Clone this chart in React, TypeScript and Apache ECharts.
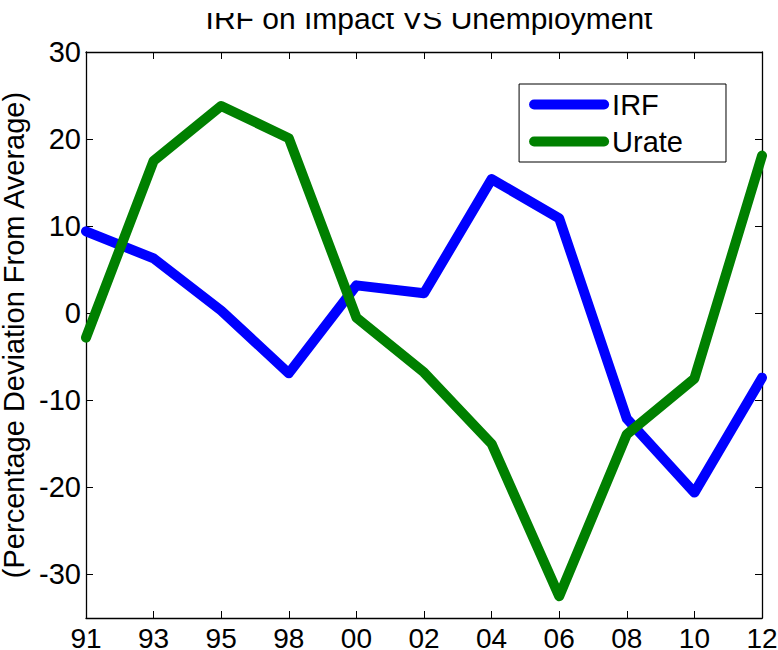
import React, { useEffect, useRef } from "react";
import * as echarts from "echarts";

const years = ["91", "93", "95", "98", "00", "02", "04", "06", "08", "10", "12"];
const irf = [9.4, 6.3, 0.3, -6.9, 3.2, 2.3, 15.4, 10.9, -12.1, -20.6, -7.4];
const urate = [-2.8, 17.5, 23.8, 20.1, -0.5, -6.8, -15.0, -32.5, -13.9, -7.5, 18.1];
const yTicks = [-30, -20, -10, 0, 10, 20, 30];
const titleText = "IRF on Impact VS Unemployment";
const yName = "(Percentage Deviation From Average)";

const FONT = "'Liberation Sans', Arial, Helvetica, sans-serif";

export default function App() {
  const ref = useRef<HTMLDivElement>(null);
  useEffect(() => {
    if (!ref.current) return;
    const chart = echarts.init(ref.current, null, { renderer: "svg" });
    const axisLine = { show: true, onZero: false, lineStyle: { color: "#000", width: 1.3 } };
    const tickIn = { show: true, inside: true, length: 7, lineStyle: { color: "#000", width: 1 } };
    const capsule = "path://M5,0 L75,0 A5,5 0 0 1 75,10 L5,10 A5,5 0 0 1 5,0 Z";
    chart.setOption({
      animation: false,
      backgroundColor: "#fff",
      title: {
        text: titleText,
        left: 424,
        top: -2,
        textAlign: "center",
        textStyle: { fontFamily: FONT, fontSize: 30, fontWeight: "normal", color: "#000" },
      },
      graphic: [
        { type: "rect", z: 100, shape: { x: 0, y: 0, width: 778, height: 13 }, style: { fill: "#fff" } },
      ],
      legend: {
        right: 778 - 726,
        top: 84,
        orient: "vertical",
        backgroundColor: "#fff",
        borderColor: "#000",
        borderWidth: 1,
        borderRadius: 0,
        padding: [6, 43, 6, 10],
        itemGap: 8,
        itemWidth: 80,
        itemHeight: 10,
        textStyle: { fontFamily: FONT, fontSize: 29, color: "#000", padding: [0, 0, 0, -2] },
        data: [
          { name: "IRF", icon: capsule },
          { name: "Urate", icon: capsule },
        ],
      },
      grid: { left: 86, right: 16, top: 52, bottom: 32, containLabel: false, outerBoundsMode: "none" },
      xAxis: [
        {
          type: "category",
          data: years,
          boundaryGap: false,
          position: "bottom",
          axisLine,
          axisTick: { ...tickIn, alignWithLabel: true },
          axisLabel: { fontFamily: FONT, fontSize: 28, color: "#000", margin: 6 },
          splitLine: { show: false },
        },
        {
          type: "category",
          data: years,
          boundaryGap: false,
          position: "top",
          axisLine,
          axisTick: tickIn,
          axisLabel: { show: false },
          splitLine: { show: false },
        },
      ],
      yAxis: [
        {
          type: "value",
          min: -35,
          max: 30,
          position: "left",
          name: yName,
          nameLocation: "middle",
          nameGap: 45,
          nameTextStyle: { fontFamily: FONT, fontSize: 29, color: "#000" },
          axisLine,
          axisTick: { ...tickIn, customValues: yTicks },
          axisLabel: { fontFamily: FONT, fontSize: 29, color: "#000", margin: 5, customValues: yTicks },
          splitLine: { show: false },
        },
        {
          type: "value",
          min: -35,
          max: 30,
          position: "right",
          axisLine,
          axisTick: { ...tickIn, customValues: yTicks },
          axisLabel: { show: false, customValues: yTicks },
          splitLine: { show: false },
        },
      ],
      series: [
        {
          name: "IRF",
          type: "line",
          data: irf,
          xAxisIndex: 0,
          yAxisIndex: 0,
          symbol: "none",
          itemStyle: { color: "#0000FF" },
          lineStyle: { color: "#0000FF", width: 10, cap: "round", join: "round" },
        },
        {
          name: "Urate",
          type: "line",
          data: urate,
          xAxisIndex: 0,
          yAxisIndex: 0,
          symbol: "none",
          itemStyle: { color: "#008000" },
          lineStyle: { color: "#008000", width: 10, cap: "round", join: "round" },
        },
      ],
    });
    return () => chart.dispose();
  }, []);
  return (
    <div
      ref={ref}
      style={{ position: "fixed", left: 0, top: 0, width: 778, height: 650, background: "#fff" }}
    />
  );
}
